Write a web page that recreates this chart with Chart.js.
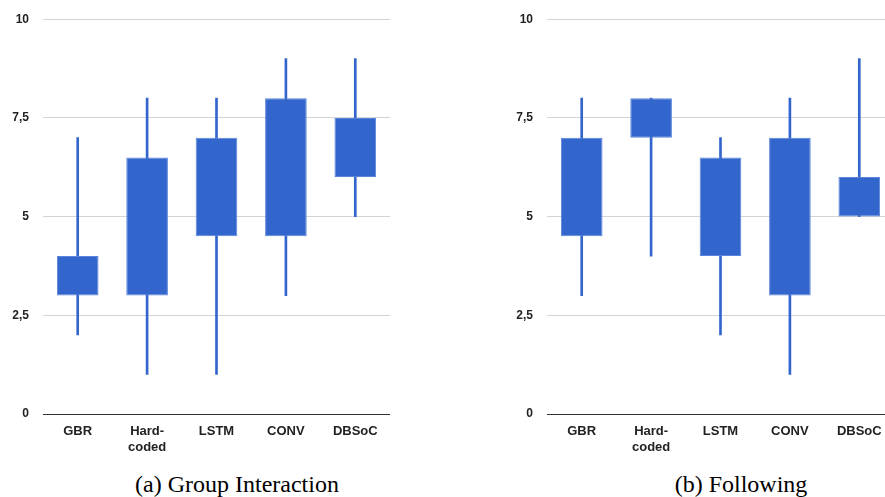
<!DOCTYPE html>
<html>
<head>
<meta charset="utf-8">
<script src="https://cdn.jsdelivr.net/npm/chart.js@4"></script>
<style>
  html, body { margin: 0; padding: 0; background: #fff; }
  body { width: 885px; height: 497px; position: relative; overflow: hidden; }
  canvas { position: absolute; top: -2px; }
  .cap { position: absolute; top: 470px; font-family: "Liberation Serif", "DejaVu Serif", serif; font-size: 24px; line-height: 28px; color: #000; white-space: nowrap; transform: translateX(-50%); }
</style>
</head>
<body>
<canvas id="chartA" width="390" height="470" style="left:0px"></canvas>
<canvas id="chartB" width="390" height="470" style="left:504px"></canvas>
<div class="cap" style="left:237px">(a) Group Interaction</div>
<div class="cap" style="left:741px">(b) Following</div>
<script>
const categories = ['GBR', ['Hard-', 'coded'], 'LSTM', 'CONV', 'DBSoC'];
const yTicks = [0, 2.5, 5, 7.5, 10];

// (a) Group Interaction
const groupBoxLow = [3, 3, 4.5, 4.5, 6];
const groupBoxHigh = [4, 6.5, 7, 8, 7.5];
const groupMin = [2, 1, 1, 3, 5];
const groupMax = [7, 8, 8, 9, 9];

// (b) Following
const followBoxLow = [4.5, 7, 4, 3, 5];
const followBoxHigh = [7, 8, 6.5, 7, 6];
const followMin = [3, 4, 2, 1, 5];
const followMax = [8, 8, 7, 8, 9];

const blue = '#3366cc';

function makeChart(id, boxLow, boxHigh, min, max) {
    const ctx = document.getElementById(id).getContext('2d');
    return new Chart(ctx, {
        type: 'bar',
        data: {
            labels: categories,
            datasets: [
                {
                    label: 'whisker',
                    data: min.map((v, i) => [v, max[i]]),
                    backgroundColor: blue,
                    barThickness: 2,
                    grouped: false,
                    order: 2
                },
                {
                    label: 'box',
                    data: boxLow.map((v, i) => [v, boxHigh[i]]),
                    backgroundColor: blue,
                    borderColor: '#5a85d9',
                    borderWidth: 1,
                    borderSkipped: false,
                    categoryPercentage: 1,
                    barPercentage: 0.6,
                    grouped: false,
                    order: 1
                }
            ]
        },
        options: {
            responsive: false,
            animation: false,
            layout: { padding: { top: 14, right: 0, left: 0, bottom: 0 } },
            plugins: { legend: { display: false }, tooltip: { enabled: false } },
            scales: {
                x: {
                    grid: { display: false, drawTicks: false },
                    border: { color: '#333', width: 1 },
                    ticks: {
                        color: '#222',
                        padding: 9,
                        maxRotation: 0,
                        font: { family: 'Liberation Sans, Arial, sans-serif', size: 13, weight: 'bold', lineHeight: 1.25 }
                    },
                    afterFit: s => { s.height = 54; }
                },
                y: {
                    min: 0,
                    max: 10,
                    afterBuildTicks: s => { s.ticks = yTicks.map(v => ({ value: v })); },
                    grid: { color: '#d4d4d4', drawTicks: false },
                    border: { display: false },
                    ticks: {
                        color: '#222',
                        padding: 14,
                        font: { family: 'Liberation Sans, Arial, sans-serif', size: 12, weight: 'bold' },
                        callback: v => String(v).replace('.', ',')
                    },
                    afterFit: s => { s.width = 43; }
                }
            }
        }
    });
}

makeChart('chartA', groupBoxLow, groupBoxHigh, groupMin, groupMax);
makeChart('chartB', followBoxLow, followBoxHigh, followMin, followMax);
</script>
</body>
</html>
